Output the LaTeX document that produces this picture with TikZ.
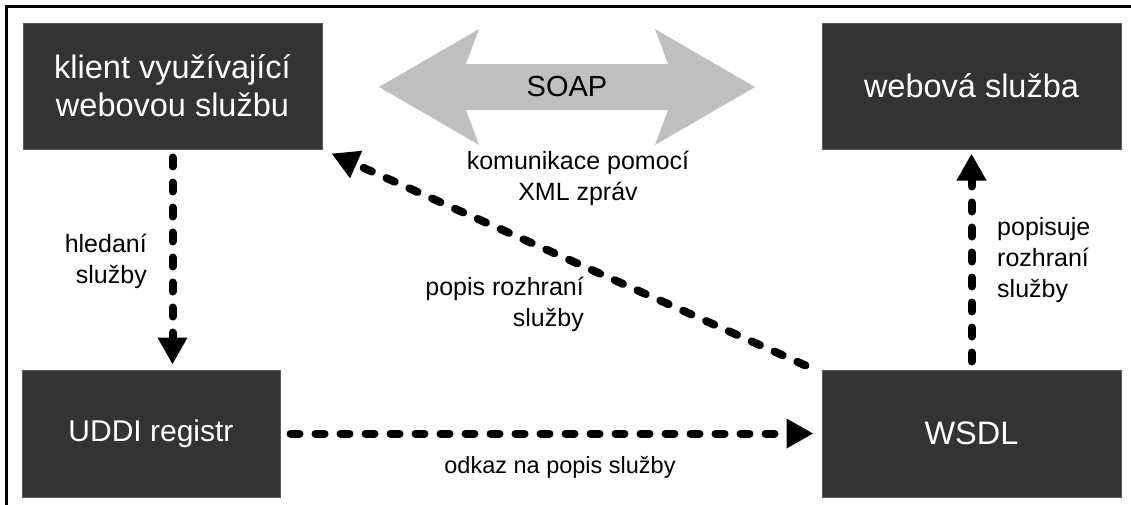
\documentclass[tikz,border=0pt]{standalone}
\usepackage{fontspec}
\setmainfont{Liberation Sans}
\usetikzlibrary{arrows.meta,calc}
\definecolor{boxfill}{HTML}{333333}
\definecolor{boxedge}{HTML}{5A5A5A}
\definecolor{soapgray}{HTML}{BFBFBF}
\begin{document}
\begin{tikzpicture}[x=1pt,y=-1pt,
  box/.style={fill=boxfill,draw=boxedge,line width=1pt,text=white,align=center,
    font=\fontsize{32.5}{38}\selectfont,inner sep=0pt},
  lbl/.style={text=black,font=\fontsize{25}{31}\selectfont,inner sep=0pt},
  darrow/.style={line width=8pt,line cap=round,dash pattern=on 9pt off 16pt,
    -{Triangle[length=27pt,width=28pt]}}]
\useasboundingbox (0,0) rectangle (1131,504);
\draw[line width=3pt] (6.5,6.5) rectangle (1140,515);
% boxes
\node[box,minimum width=299pt,minimum height=126pt] (client) at (172.5,86) {klient využívající\\webovou službu};
\node[box,minimum width=299pt,minimum height=126pt] (web) at (971.5,86) {webová služba};
\node[box,minimum width=258pt,minimum height=127pt,font=\fontsize{30}{35}\selectfont] (uddi) at (151,433.5) {UDDI registr};
\node[box,minimum width=299pt,minimum height=127pt] (wsdl) at (971.5,433.5) {WSDL};
% SOAP double arrow
\fill[soapgray] (379,87) -- (479,29) -- (466,64) -- (668,64) -- (655,29) -- (755,87)
  -- (655,145) -- (668,110) -- (466,110) -- (479,145) -- cycle;
\node[text=black,font=\fontsize{29}{33}\selectfont,inner sep=0pt] (soap) at (567,87) {SOAP};
% connectors
\draw[darrow,shorten <=8pt,shorten >=5pt] (client.south) -- (client.south |- uddi.north);
\draw[darrow,shorten <=8pt,shorten >=4pt] (wsdl.north) -- (web.south);
\draw[darrow,shorten <=10pt,shorten >=8pt] (uddi.east) -- (uddi.east -| wsdl.west);
\coordinate (dtail) at ($(wsdl.north west)+(-16,-4)$);
\coordinate (dtip) at ($(client.south east)+(9,4)$);
\draw[darrow] (dtail) -- (dtip);
% labels
\node[lbl,align=center] (l1) at (578,178) {komunikace pomocí\\XML zpráv};
\node[lbl,align=right,anchor=east] (l2) at (147,261) {hledaní\\služby};
\node[lbl,align=left,anchor=west] (l3) at (997,260) {popisuje\\rozhraní\\služby};
\node[lbl,align=right,anchor=east] (l4) at (584,304) {popis rozhraní\\služby};
\node[lbl,align=center,font=\fontsize{23.5}{28}\selectfont] (l5) at (560,467) {odkaz na popis služby};
\end{tikzpicture}
\end{document}
